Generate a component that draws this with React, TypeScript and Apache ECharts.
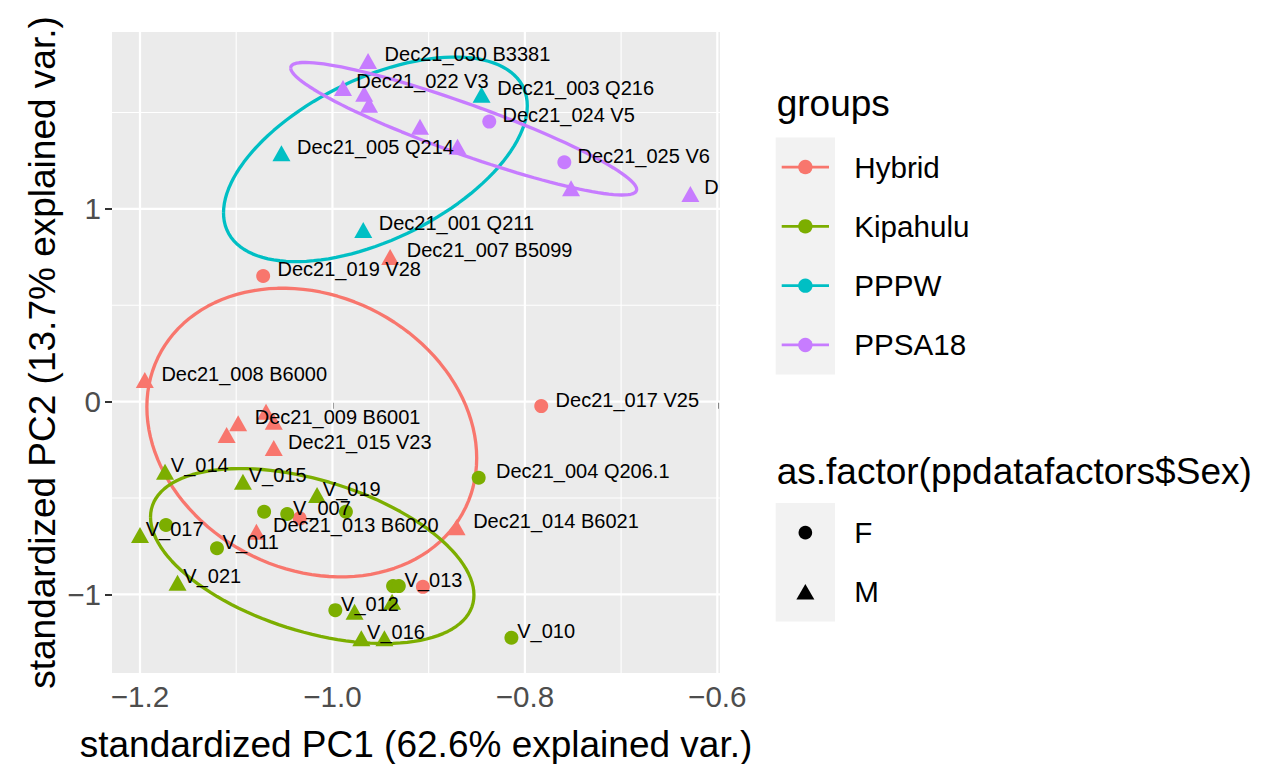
import React, { useEffect, useRef } from "react";
import * as echarts from "echarts";

// ---------- data ----------
const groups = ["Hybrid", "Kipahulu", "PPPW", "PPSA18"];
const groupColors = ["#F8766D", "#7CAE00", "#00BFC4", "#C77CFF"];
const sexLevels = ["F", "M"];

// [PC1, PC2, sex, label]
const hybridPoints: [number, number, string, string][] = [
  [-0.94, 0.751, "M", "Dec21_007 B5099"],
  [-1.072, 0.652, "F", "Dec21_019 V28"],
  [-1.195, 0.112, "M", "Dec21_008 B6000"],
  [-1.069, -0.052, "M", ""],
  [-1.061, -0.104, "M", ""],
  [-1.098, -0.112, "M", "Dec21_009 B6001"],
  [-1.11, -0.173, "M", ""],
  [-1.061, -0.241, "M", "Dec21_015 V23"],
  [-0.783, -0.023, "F", "Dec21_017 V25"],
  [-1.079, -0.675, "M", "Dec21_013 B6020"],
  [-1.034, -0.606, "F", ""],
  [-0.871, -0.652, "M", "Dec21_014 B6021"],
  [-0.906, -0.961, "F", ""],
];

const kipahuluPoints: [number, number, string, string][] = [
  [-1.174, -0.364, "M", "V_014"],
  [-1.093, -0.416, "M", "V_015"],
  [-1.016, -0.485, "M", "V_019"],
  [-1.071, -0.571, "F", ""],
  [-1.047, -0.583, "F", "V_007"],
  [-0.986, -0.571, "F", ""],
  [-1.173, -0.64, "F", ""],
  [-1.2, -0.692, "M", "V_017"],
  [-1.12, -0.761, "F", "V_011"],
  [-1.161, -0.94, "M", "V_021"],
  [-0.997, -1.082, "F", "V_012"],
  [-0.977, -1.09, "M", ""],
  [-0.97, -1.228, "M", "V_016"],
  [-0.946, -1.228, "M", ""],
  [-0.937, -0.957, "F", ""],
  [-0.931, -0.957, "F", "V_013"],
  [-0.938, -1.038, "M", ""],
  [-0.814, -1.225, "F", "V_010"],
  [-0.848, -0.395, "F", "Dec21_004 Q206.1"],
];

const ppwPoints: [number, number, string, string][] = [
  [-0.845, 1.592, "M", "Dec21_003 Q216"],
  [-1.053, 1.289, "M", "Dec21_005 Q214"],
  [-0.968, 0.891, "M", "Dec21_001 Q211"],
];

const ppsaPoints: [number, number, string, string][] = [
  [-0.963, 1.768, "M", "Dec21_030 B3381"],
  [-0.989, 1.628, "M", "Dec21_022 V3"],
  [-0.967, 1.597, "M", ""],
  [-0.962, 1.54, "M", ""],
  [-0.909, 1.426, "M", ""],
  [-0.87, 1.322, "M", ""],
  [-0.837, 1.453, "F", "Dec21_024 V5"],
  [-0.759, 1.242, "F", "Dec21_025 V6"],
  [-0.752, 1.107, "M", ""],
  [-0.628, 1.078, "M", "D"],
];

const groupPoints = [hybridPoints, kipahuluPoints, ppwPoints, ppsaPoints];

const xRange = [-1.2291, -0.5972];
const yRange = [-1.408, 1.918];
const xMajorTicks = [-1.2, -1.0, -0.8, -0.6];
const xMinorTicks = [-1.1, -0.9, -0.7];
const yMajorTicks = [-1, 0, 1];
const yMinorTicks = [-0.5, 0.5, 1.5];

const xTitle = "standardized PC1 (62.6% explained var.)";
const yTitle = "standardized PC2 (13.7% explained var.)";
const colorLegendTitle = "groups";
const shapeLegendTitle = "as.factor(ppdatafactors$Sex)";
const ellipseProb = 0.68;

// ---------- helpers ----------
const FONT = "'Liberation Sans', Arial, Helvetica, sans-serif";

function measure(text: string, size: number) {
  const ctx = document.createElement("canvas").getContext("2d")!;
  ctx.font = `${size}px 'Liberation Sans', Arial, sans-serif`;
  return ctx.measureText(text).width;
}

function dataEllipse(pts: [number, number, string, string][], prob: number) {
  const n = pts.length;
  const mx = pts.reduce((s, p) => s + p[0], 0) / n;
  const my = pts.reduce((s, p) => s + p[1], 0) / n;
  let sxx = 0, syy = 0, sxy = 0;
  pts.forEach((p) => {
    sxx += (p[0] - mx) ** 2;
    syy += (p[1] - my) ** 2;
    sxy += (p[0] - mx) * (p[1] - my);
  });
  sxx /= n - 1; syy /= n - 1; sxy /= n - 1;
  const a = Math.sqrt(sxx);
  const b = sxy / a;
  const c = Math.sqrt(Math.max(syy - b * b, 0));
  const ed = Math.sqrt(-2 * Math.log(1 - prob));
  const out: number[][] = [];
  const steps = 120;
  for (let i = 0; i <= steps; i++) {
    const t = -Math.PI + (2 * Math.PI * i) / steps;
    const ct = Math.cos(t), st = Math.sin(t);
    out.push([mx + ed * ct * a, my + ed * (ct * b + st * c)]);
  }
  return out;
}

const fmtNum = (v: number, d: number) => {
  const s = Math.abs(v).toFixed(d);
  return v < -1e-9 ? "\u2212" + s : s;
};

export default function App() {
  const ref = useRef<HTMLDivElement>(null);
  useEffect(() => {
    const chart = echarts.init(ref.current!, null, { renderer: "svg" });

    const gridSeries: any[] = [];
    const vline = (v: number, w: number) => ({
      type: "line", z: 1, silent: true, showSymbol: false, symbol: "none",
      data: [[v, yRange[0]], [v, yRange[1]]],
      lineStyle: { color: "#FFFFFF", width: w }, animation: false,
    });
    const hline = (v: number, w: number) => ({
      type: "line", z: 1, silent: true, showSymbol: false, symbol: "none",
      data: [[xRange[0], v], [xRange[1], v]],
      lineStyle: { color: "#FFFFFF", width: w }, animation: false,
    });
    xMinorTicks.forEach((v) => gridSeries.push(vline(v, 1.1)));
    yMinorTicks.forEach((v) => gridSeries.push(hline(v, 1.1)));
    xMajorTicks.forEach((v) => gridSeries.push(vline(v, 2.2)));
    yMajorTicks.forEach((v) => gridSeries.push(hline(v, 2.2)));

    const ellipseSeries = groups.map((g, i) => ({
      type: "line", name: g + " ellipse", z: 2, silent: true,
      showSymbol: false, symbol: "none",
      data: dataEllipse(groupPoints[i], ellipseProb),
      lineStyle: { color: groupColors[i], width: 3.3 },
      animation: false,
    }));

    const pointSeries = groups.map((g, i) => ({
      type: "scatter", name: g, z: 3,
      data: groupPoints[i].map((p) => {
        const lab = p[3];
        const isF = p[2] === sexLevels[0];
        const size = isF ? [14, 14] : [18, 16];
        const w = lab.length <= 1 ? 140 : measure(lab, 20);
        return {
          name: lab,
          value: [p[0], p[1]],
          symbol: isF ? "circle" : "triangle",
          symbolSize: size,
          label: {
            show: lab !== "",
            position: [size[0] / 2 + 0.1 * w, size[1] / 2 - 6.5],
          },
        };
      }),
      itemStyle: { color: groupColors[i], opacity: 1 },
      label: {
        show: true, formatter: "{b}",
        align: "left", verticalAlign: "middle",
        fontSize: 20, fontFamily: FONT, color: "#000000",
      },
      labelLayout: { hideOverlap: false },
      animation: false,
    }));

    // legends (graphic)
    const graphics: any[] = [];
    const keyX = 775.7, keyW = 59.3, keyH = 59.3, labX = 854.3;
    graphics.push({
      type: "text", x: 776.7, y: 103,
      style: { text: colorLegendTitle, fontSize: 37, fontFamily: FONT, fill: "#000", verticalAlign: "middle", align: "left" },
    });
    const k1Top = 137.4;
    graphics.push({ type: "rect", shape: { x: keyX, y: k1Top, width: keyW, height: keyH * groups.length }, style: { fill: "#F2F2F2" } });
    groups.forEach((g, i) => {
      const cy = k1Top + keyH * (i + 0.5);
      graphics.push({ type: "line", shape: { x1: keyX + 6, y1: cy, x2: keyX + keyW - 6, y2: cy }, style: { stroke: groupColors[i], lineWidth: 2.8 } });
      graphics.push({ type: "circle", shape: { cx: keyX + keyW / 2, cy, r: 7.2 }, style: { fill: groupColors[i] } });
      graphics.push({ type: "text", x: labX, y: cy, style: { text: g, fontSize: 29.6, fontFamily: FONT, fill: "#000", verticalAlign: "middle", align: "left" } });
    });
    graphics.push({
      type: "text", x: 776.7, y: 471,
      style: { text: shapeLegendTitle, fontSize: 37, fontFamily: FONT, fill: "#000", verticalAlign: "middle", align: "left" },
    });
    const k2Top = 503;
    graphics.push({ type: "rect", shape: { x: keyX, y: k2Top, width: keyW, height: keyH * sexLevels.length }, style: { fill: "#F2F2F2" } });
    sexLevels.forEach((s, i) => {
      const cy = k2Top + keyH * (i + 0.5);
      const cx = keyX + keyW / 2;
      if (i === 0) {
        graphics.push({ type: "circle", shape: { cx, cy, r: 6.8 }, style: { fill: "#000" } });
      } else {
        graphics.push({ type: "polygon", shape: { points: [[cx - 9, cy + 7.5], [cx + 9, cy + 7.5], [cx, cy - 8]] }, style: { fill: "#000" } });
      }
      graphics.push({ type: "text", x: labX, y: cy, style: { text: s, fontSize: 29.6, fontFamily: FONT, fill: "#000", verticalAlign: "middle", align: "left" } });
    });

    chart.setOption({
      animation: false,
      backgroundColor: "#FFFFFF",
      textStyle: { fontFamily: FONT },
      grid: {
        left: 112, right: 1265 - 720, top: 32, bottom: 764 - 673,
        show: true, backgroundColor: "#EBEBEB", borderWidth: 0,
        containLabel: false, outerBoundsMode: "none",
      },
      xAxis: {
        type: "value", min: xRange[0], max: xRange[1], splitNumber: 3,
        axisLine: { show: false },
        axisTick: { show: true, customValues: xMajorTicks, length: 7, lineStyle: { color: "#333333", width: 2 } },
        axisLabel: {
          customValues: xMajorTicks, formatter: (v: number) => fmtNum(v, 1),
          color: "#4D4D4D", fontSize: 29.6, fontFamily: FONT, margin: 8,
        },
        splitLine: { show: false },
        name: xTitle, nameLocation: "middle", nameGap: 53,
        nameTextStyle: { fontSize: 37, color: "#000", fontFamily: FONT },
      },
      yAxis: {
        type: "value", min: yRange[0], max: yRange[1], splitNumber: 3,
        axisLine: { show: false },
        axisTick: { show: true, customValues: yMajorTicks, length: 7, lineStyle: { color: "#333333", width: 2 } },
        axisLabel: {
          customValues: yMajorTicks, formatter: (v: number) => fmtNum(v, 0),
          color: "#4D4D4D", fontSize: 29.6, fontFamily: FONT, margin: 11,
        },
        splitLine: { show: false },
        name: yTitle, nameLocation: "middle", nameGap: 51,
        nameTextStyle: { fontSize: 37, color: "#000", fontFamily: FONT },
      },
      graphic: graphics,
      series: [...gridSeries, ...ellipseSeries, ...pointSeries],
    });
    return () => chart.dispose();
  }, []);
  return <div ref={ref} style={{ position: "absolute", left: 0, top: 0, width: 1265, height: 764 }} />;
}
